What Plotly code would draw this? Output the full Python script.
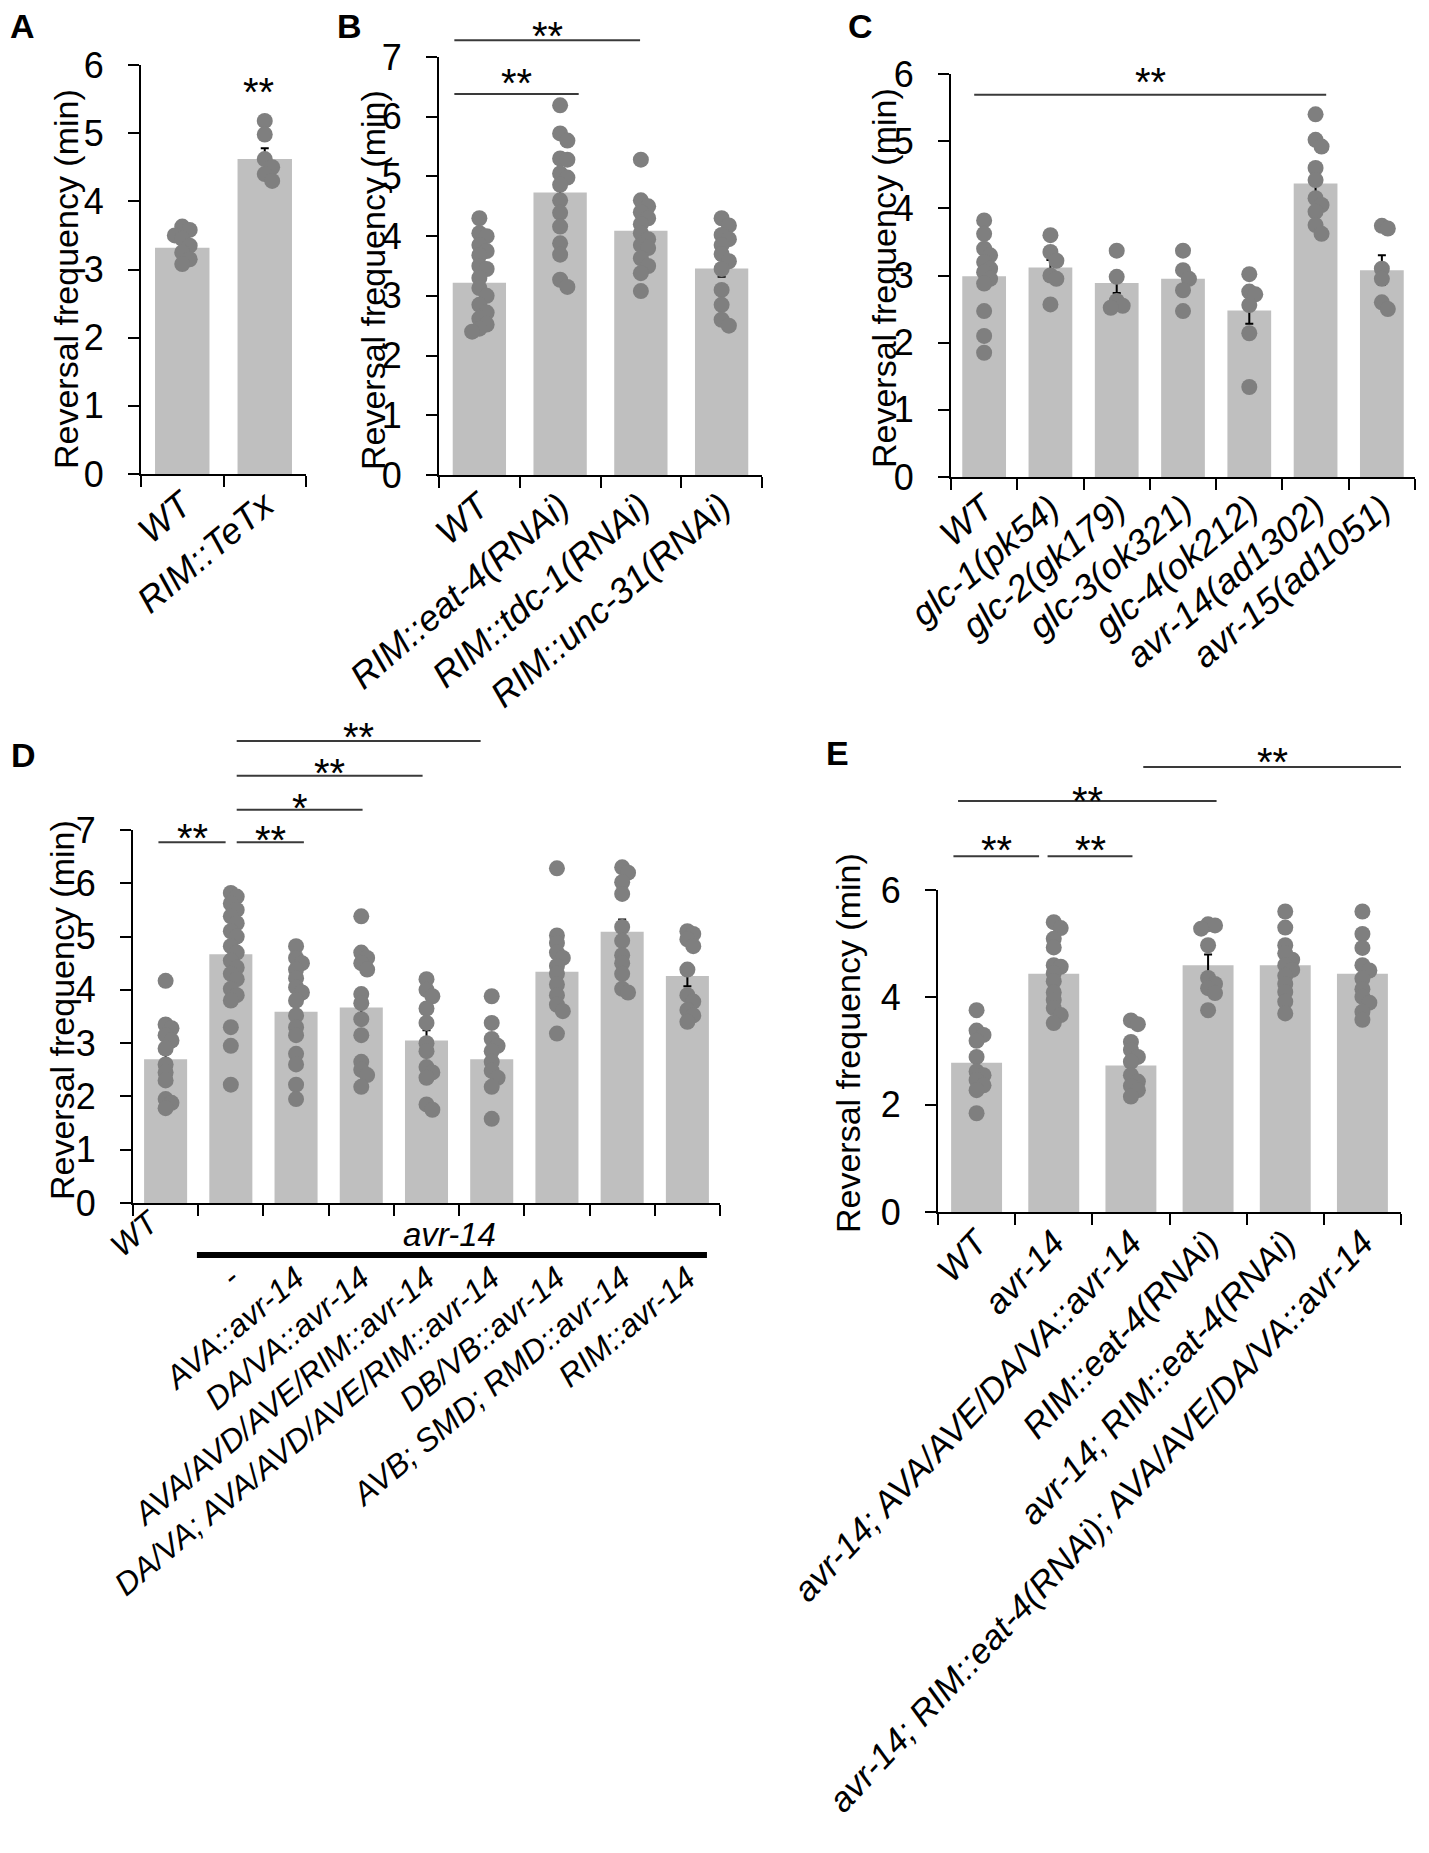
import plotly.graph_objects as go

# figure size of the reference
W, H = 1429, 1853
FONT = "Liberation Sans"
BAR_COLOR = "#bfbfbf"
DOT_COLOR = "#7f7f7f"
LINE_COLOR = "#3a3a3a"

# ------------------------------------------------------------------
# data
# ------------------------------------------------------------------
A_CATS = ["WT", "RIM::TeTx"]
A_MEAN = [3.32, 4.62]
A_SEM = [0.10, 0.16]
A_PTS = [
    [3.63, 3.58, 3.5, 3.45, 3.35, 3.25, 3.15, 3.08],
    [5.18, 4.98, 4.62, 4.5, 4.4, 4.3],
]

B_CATS = ["WT", "RIM::eat-4(RNAi)", "RIM::tdc-1(RNAi)", "RIM::unc-31(RNAi)"]
B_MEAN = [3.22, 4.73, 4.09, 3.46]
B_SEM = [0.14, 0.26, 0.14, 0.14]
B_PTS = [
    [4.3, 4.05, 4.0, 3.85, 3.75, 3.68, 3.5, 3.45, 3.3, 3.13, 3.0, 2.85, 2.72, 2.62, 2.52, 2.45, 2.4],
    [6.19, 5.72, 5.6, 5.3, 5.28, 5.05, 4.98, 4.86, 4.6, 4.39, 4.16, 3.88, 3.69, 3.27, 3.15],
    [5.28, 4.6, 4.5, 4.4, 4.3, 4.2, 4.05, 3.95, 3.85, 3.8, 3.63, 3.5, 3.38, 3.08],
    [4.3, 4.18, 4.02, 3.95, 3.85, 3.7, 3.58, 3.45, 3.1, 2.85, 2.6, 2.5],
]

C_CATS = ["WT", "glc-1(pk54)", "glc-2(gk179)", "glc-3(ok321)", "glc-4(ok212)",
          "avr-14(ad1302)", "avr-15(ad1051)"]
C_MEAN = [2.99, 3.12, 2.89, 2.95, 2.48, 4.37, 3.08]
C_SEM = [0.13, 0.11, 0.15, 0.10, 0.20, 0.18, 0.22]
C_PTS = [
    [3.82, 3.62, 3.4, 3.3, 3.2, 3.1, 3.05, 2.95, 2.88, 2.47, 2.1, 1.85],
    [3.6, 3.35, 3.22, 3.0, 2.95, 2.57],
    [3.37, 2.98, 2.62, 2.55, 2.52],
    [3.37, 3.08, 2.95, 2.78, 2.47],
    [3.02, 2.76, 2.72, 2.56, 2.14, 1.34],
    [5.4, 5.02, 4.92, 4.6, 4.42, 4.15, 4.05, 3.95, 3.75, 3.62],
    [3.74, 3.7, 3.1, 2.95, 2.6, 2.5],
]

D_CATS = ["WT", "-", "AVA::avr-14", "DA/VA::avr-14", "AVA/AVD/AVE/RIM::avr-14",
          "DA/VA; AVA/AVD/AVE/RIM::avr-14", "DB/VB::avr-14",
          "AVB; SMD; RMD::avr-14", "RIM::avr-14"]
D_MEAN = [2.70, 4.67, 3.59, 3.67, 3.05, 2.70, 4.34, 5.09, 4.26]
D_SEM = [0.20, 0.15, 0.17, 0.23, 0.19, 0.12, 0.20, 0.23, 0.19]
D_PTS = [
    [4.17, 3.35, 3.28, 3.15, 3.05, 2.9, 2.6, 2.45, 2.3, 1.95, 1.88, 1.78],
    [5.82, 5.75, 5.62, 5.5, 5.38, 5.25, 5.1, 5.0, 4.82, 4.7, 4.55, 4.42, 4.3, 4.2,
     4.02, 3.9, 3.8, 3.3, 2.95, 2.22],
    [4.82, 4.6, 4.5, 4.38, 4.22, 4.05, 3.95, 3.8, 3.52, 3.3, 3.15, 2.8, 2.6, 2.22, 1.95],
    [5.38, 4.7, 4.6, 4.5, 4.38, 3.92, 3.75, 3.45, 3.15, 2.65, 2.5, 2.4, 2.18],
    [4.2, 4.0, 3.88, 3.65, 3.38, 3.0, 2.85, 2.55, 2.45, 2.35, 1.85, 1.75],
    [3.88, 3.38, 3.08, 2.95, 2.85, 2.65, 2.48, 2.35, 2.18, 1.58],
    [6.28, 5.02, 4.88, 4.7, 4.6, 4.45, 4.3, 4.1, 3.9, 3.72, 3.6, 3.18],
    [6.3, 6.2, 6.02, 5.8, 5.18, 4.92, 4.65, 4.5, 4.3, 4.02, 3.95],
    [5.1, 5.05, 4.95, 4.82, 4.38, 3.9, 3.78, 3.62, 3.52, 3.4],
]

E_CATS = ["WT", "avr-14", "avr-14; AVA/AVE/DA/VA::avr-14", "RIM::eat-4(RNAi)",
          "avr-14; RIM::eat-4(RNAi)", "avr-14; RIM::eat-4(RNAi); AVA/AVE/DA/VA::avr-14"]
E_MEAN = [2.78, 4.44, 2.73, 4.60, 4.60, 4.44]
E_SEM = [0.20, 0.21, 0.10, 0.20, 0.15, 0.18]
E_PTS = [
    [3.76, 3.38, 3.3, 3.19, 2.89, 2.62, 2.55, 2.46, 2.36, 2.27, 1.84],
    [5.4, 5.29, 5.09, 4.93, 4.6, 4.57, 4.45, 4.3, 4.09, 3.95, 3.8, 3.67, 3.52],
    [3.57, 3.5, 3.17, 3.02, 2.89, 2.8, 2.55, 2.43, 2.35, 2.27, 2.15],
    [5.36, 5.34, 5.28, 4.97, 4.36, 4.25, 4.17, 4.08, 3.76],
    [5.6, 5.3, 4.97, 4.82, 4.7, 4.6, 4.51, 4.4, 4.25, 4.1, 3.92, 3.7],
    [5.6, 5.18, 4.92, 4.6, 4.5, 4.35, 4.15, 4.01, 3.9, 3.73, 3.58],
]

# significance bars: (x0, x1, height of line, label, height of label)
A_SIG = [(None, None, None, "**", 5.73)]
B_SIG = [(-0.31, 1.99, 7.28, "**", 7.5), (-0.31, 1.23, 6.38, "**", 6.71)]
C_SIG = [(-0.15, 5.16, 5.69, "**", 6.01)]
D_SIG = [(-0.11, 0.92, 6.77, "**", 7.01), (1.09, 2.12, 6.77, "**", 6.98),
         (1.09, 3.02, 7.38, "*", 7.58), (1.09, 3.94, 8.02, "**", 8.23),
         (1.09, 4.83, 8.67, "**", 8.91)]
E_SIG = [(-0.30, 0.81, 6.63, "**", 6.92), (0.92, 2.02, 6.63, "**", 6.92),
         (-0.24, 3.11, 7.66, "**", 7.83), (2.16, 5.50, 8.29, "**", 8.56)]


def px(x=None, y=None):
    """pixels of the picture -> paper coordinates"""
    if y is None:
        return x / W
    if x is None:
        return 1 - y / H
    return x / W, 1 - y / H


def spread(vals, dy=0.13, dx=0.09):
    """little deterministic beeswarm: push points sideways when they touch"""
    placed, offs = [], []
    for v in vals:
        for k in [0, 1, -1, 2, -2]:
            if all(abs(v - pv) >= dy or pk != k for pv, pk in placed):
                break
        placed.append((v, k))
        offs.append(k * dx)
    return offs


# geometry of every panel (pixels in the reference) + font size of the x labels
panels = [
    dict(key="", cats=A_CATS, mean=A_MEAN, sem=A_SEM, pts=A_PTS, sig=A_SIG,
         x=(133, 298), y=(57, 466), ymax=6, dtick=1, angle=-40, xfont=36,
         letter="A", letter_xy=(0, -3), title_xy=(58, 271)),
    dict(key="2", cats=B_CATS, mean=B_MEAN, sem=B_SEM, pts=B_PTS, sig=B_SIG,
         x=(431, 754), y=(49, 467), ymax=7, dtick=1, angle=-41, xfont=36,
         letter="B", letter_xy=(327, -3), title_xy=(365, 272)),
    dict(key="3", cats=C_CATS, mean=C_MEAN, sem=C_SEM, pts=C_PTS, sig=C_SIG,
         x=(943, 1407), y=(66, 469), ymax=6, dtick=1, angle=-40, xfont=36,
         letter="C", letter_xy=(838, -3), title_xy=(876, 270)),
    dict(key="4", cats=D_CATS, mean=D_MEAN, sem=D_SEM, pts=D_PTS, sig=D_SIG,
         x=(125, 712), y=(822, 1195), ymax=7, dtick=1, angle=-40, xfont=32,
         letter="D", letter_xy=(1, 726), title_xy=(54, 1002)),
    dict(key="5", cats=E_CATS, mean=E_MEAN, sem=E_SEM, pts=E_PTS, sig=E_SIG,
         x=(930, 1393), y=(882, 1204), ymax=6, dtick=2, angle=-47, xfont=35,
         letter="E", letter_xy=(816, 724), title_xy=(840, 1035)),
]

fig = go.Figure()
shapes, annotations = [], []

for p in panels:
    k = p["key"]
    xa, ya = "x" + k, "y" + k
    n = len(p["cats"])
    xs = list(range(n))

    # bars + error bars
    fig.add_trace(go.Bar(
        x=xs, y=p["mean"], width=0.66, xaxis=xa, yaxis=ya,
        marker=dict(color=BAR_COLOR, line=dict(width=0)),
        error_y=dict(type="data", array=p["sem"], color="black", thickness=2, width=4),
        showlegend=False, hoverinfo="skip",
    ))

    # individual points
    dx, dy = [], []
    for i, vals in enumerate(p["pts"]):
        for off, v in zip(spread(vals), vals):
            dx.append(i + off)
            dy.append(v)
    fig.add_trace(go.Scatter(
        x=dx, y=dy, mode="markers", xaxis=xa, yaxis=ya, cliponaxis=False,
        marker=dict(size=16, color=DOT_COLOR, line=dict(width=0)),
        showlegend=False,
    ))

    ticktext = ["<i>%s</i>" % c for c in p["cats"]]
    standoff = -6
    if p["letter"] == "D":
        # in D only WT sits at the axis, the others hang below the avr-14 bar
        ticktext[0] = ""
        standoff = 42

    fig.update_layout({
        "xaxis" + k: dict(
            domain=[px(x=p["x"][0]), px(x=p["x"][1])], anchor=ya,
            range=[-0.5, n - 0.5], showgrid=False, zeroline=False,
            showline=True, linecolor="black", linewidth=2,
            tickmode="array", tickvals=xs, ticktext=ticktext, ticks="",
            tickangle=p["angle"], ticklabelstandoff=standoff,
            tickfont=dict(size=p["xfont"], color="black", family=FONT),
            minor=dict(tickmode="array", tickvals=[i - 0.5 for i in range(n + 1)],
                       ticks="outside", ticklen=11, tickwidth=2, tickcolor="black",
                       showgrid=False),
        ),
        "yaxis" + k: dict(
            domain=[px(y=p["y"][1]), px(y=p["y"][0])], anchor=xa,
            range=[0, p["ymax"]], showgrid=False, zeroline=False,
            showline=True, linecolor="black", linewidth=2,
            tickmode="linear", tick0=0, dtick=p["dtick"],
            ticks="outside", ticklen=11, tickwidth=2, tickcolor="black",
            ticklabelstandoff=17,
            tickfont=dict(size=36, color="black", family=FONT),
        ),
    })

    # significance lines and stars
    for x0, x1, yl, lab, yt in p["sig"]:
        if x0 is not None:
            shapes.append(dict(type="line", xref=xa, yref=ya + " domain",
                               x0=x0, x1=x1, y0=yl / p["ymax"], y1=yl / p["ymax"],
                               line=dict(color=LINE_COLOR, width=2)))
            xt = (x0 + x1) / 2
        else:
            xt = 0.92
        annotations.append(dict(text=lab, xref=xa, yref=ya + " domain", x=xt,
                                y=yt / p["ymax"], xanchor="center", yanchor="middle",
                                yshift=-9, showarrow=False,
                                font=dict(size=40, color="black", family=FONT)))

    # y title
    tx, ty = px(*p["title_xy"])
    annotations.append(dict(text="Reversal frequency (min)", xref="paper", yref="paper",
                            x=tx, y=ty, xanchor="center", yanchor="middle",
                            textangle=-90, showarrow=False,
                            font=dict(size=34, color="black", family=FONT)))
    # panel letter
    lx, ly = px(*p["letter_xy"])
    annotations.append(dict(text="<b>%s</b>" % p["letter"], xref="paper", yref="paper",
                            x=lx, y=ly, xanchor="left", yanchor="top", showarrow=False,
                            font=dict(size=34, color="black", family=FONT)))

# panel D: WT label at the axis, black bar with avr-14 above the mutants
annotations.append(dict(text="<i>WT</i>", xref="x4", yref="paper", x=0, y=px(y=1192),
                        xanchor="right", yanchor="top", textangle=-40, xshift=4,
                        showarrow=False, font=dict(size=32, color="black", family=FONT)))
shapes.append(dict(type="line", xref="x4", yref="paper", x0=0.48, x1=8.3,
                   y0=px(y=1247), y1=px(y=1247), line=dict(color="black", width=6)))
annotations.append(dict(text="<i>avr-14</i>", xref="x4", yref="paper", x=4.35,
                        y=px(y=1226), xanchor="center", yanchor="middle", showarrow=False,
                        font=dict(size=33, color="black", family=FONT)))

fig.update_layout(
    template="none",
    width=W, height=H, autosize=False,
    margin=dict(l=0, r=0, t=0, b=0),
    paper_bgcolor="white", plot_bgcolor="white",
    font=dict(family=FONT, color="black"),
    shapes=shapes, annotations=annotations,
    showlegend=False,
)

fig.write_html("out.html")
